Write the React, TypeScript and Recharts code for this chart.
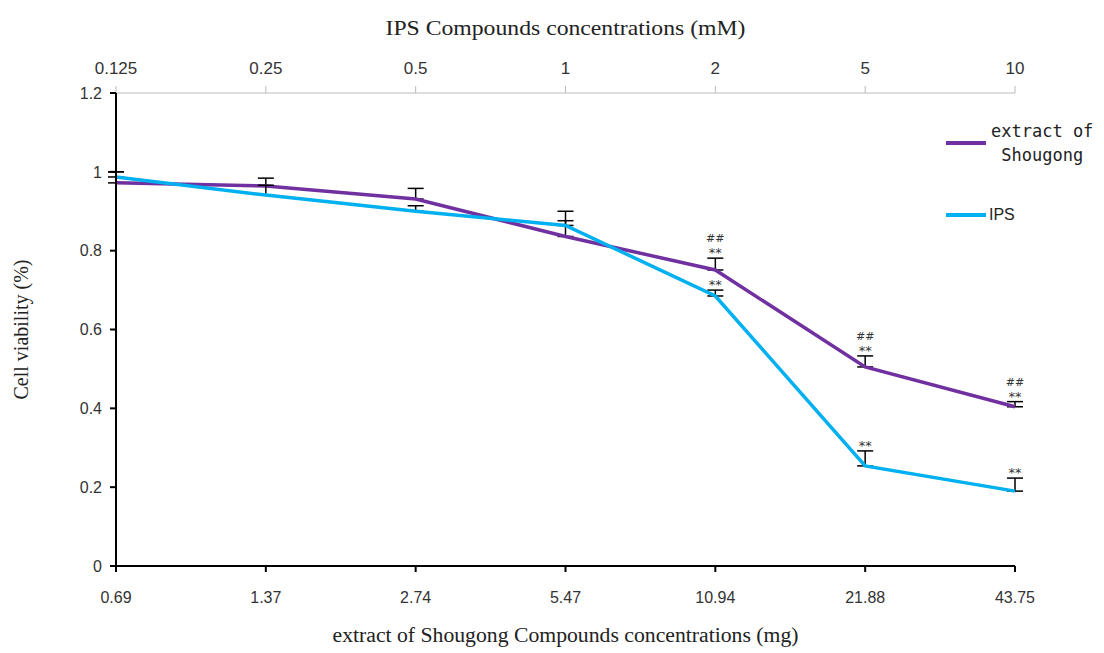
import React from "react";
import {
  LineChart,
  Line,
  XAxis,
  YAxis,
  ErrorBar,
  ReferenceDot,
  Legend,
} from "recharts";

const mgLabels = ["0.69", "1.37", "2.74", "5.47", "10.94", "21.88", "43.75"];
const mMLabels = ["0.125", "0.25", "0.5", "1", "2", "5", "10"];
const shougong = [0.972, 0.964, 0.931, 0.836, 0.751, 0.505, 0.404];
const shougongErr = [0.028, 0.02, 0.027, 0.04, 0.03, 0.028, 0.013];
const ips = [0.987, 0.941, 0.9, 0.864, 0.685, 0.254, 0.19];
const ipsErr = [0.013, 0.025, 0.014, 0.036, 0.015, 0.038, 0.033];
const shougongMarks = ["", "", "", "", "##\n**", "##\n**", "##\n**"];
const ipsMarks = ["", "", "", "", "**", "**", "**"];
const yTicks = [0, 0.2, 0.4, 0.6, 0.8, 1, 1.2];

const PURPLE = "#7030A0";
const CYAN = "#00B0F0";

const data = mgLabels.map((mg, i) => ({
  mg,
  mM: mMLabels[i],
  shougong: shougong[i],
  shougongErr: [0, shougongErr[i]],
  ips: ips[i],
  ipsErr: [0, ipsErr[i]],
}));

const tickSans = { fontSize: 16, fill: "#333", fontFamily: "Liberation Sans, Arial, sans-serif" };
const tickTop = { fontSize: 17, fill: "#333", fontFamily: "Liberation Sans, sans-serif" };

// ## / ** significance marks stacked above the error bar cap
function Marks({ viewBox, text }: any) {
  if (!viewBox || !text) return null;
  const x = viewBox.x + viewBox.width / 2;
  const y = viewBox.y;
  const lines = String(text).split("\n").reverse();
  return (
    <g>
      {lines.map((t: string, k: number) => (
        <text
          key={k}
          x={x}
          y={y - 1 - k * 15}
          textAnchor="middle"
          fontSize={t === "##" ? 11 : 13}
          fontFamily="DejaVu Sans, sans-serif"
          fill="#333"
        >
          {t}
        </text>
      ))}
    </g>
  );
}

function TopTitle({ viewBox }: any) {
  const cx = viewBox.x + viewBox.width / 2;
  return (
    <text
      x={cx}
      y={35}
      textAnchor="middle"
      fontSize={22}
      fontFamily="Liberation Serif, serif"
      fill="#222"
      textLength={360}
      lengthAdjust="spacingAndGlyphs"
    >
      IPS Compounds concentrations (mM)
    </text>
  );
}

function BottomTitle({ viewBox }: any) {
  const cx = viewBox.x + viewBox.width / 2;
  return (
    <text
      x={cx}
      y={642}
      textAnchor="middle"
      fontSize={20}
      fontFamily="Liberation Serif, serif"
      fill="#222"
      textLength={466}
      lengthAdjust="spacingAndGlyphs"
    >
      extract of Shougong Compounds concentrations (mg)
    </text>
  );
}

function YTitle({ viewBox }: any) {
  const cy = viewBox.y + viewBox.height / 2;
  return (
    <text
      x={28}
      y={cy}
      transform={`rotate(-90 28 ${cy})`}
      textAnchor="middle"
      fontSize={20}
      fontFamily="Liberation Serif, serif"
      fill="#222"
    >
      Cell viability (%)
    </text>
  );
}

function LegendBox() {
  return (
    <div style={{ width: 160 }}>
      <div style={{ display: "flex", alignItems: "center", height: 50 }}>
        <div style={{ width: 40, height: 4, background: PURPLE, marginRight: 5 }} />
        <div
          style={{
            fontFamily: "DejaVu Sans Mono, monospace",
            fontSize: 17,
            lineHeight: "24px",
            textAlign: "center",
            color: "#222",
          }}
        >
          extract of
          <br />
          Shougong
        </div>
      </div>
      <div style={{ display: "flex", alignItems: "center", marginTop: 38 }}>
        <div style={{ width: 40, height: 4, background: CYAN, marginRight: 3 }} />
        <div style={{ fontFamily: "Liberation Sans, sans-serif", fontSize: 16, color: "#222" }}>IPS</div>
      </div>
    </div>
  );
}

export default function App() {
  return (
    <div style={{ position: "absolute", left: 0, top: 0, width: 1104, height: 653, background: "#fff" }}>
      <LineChart width={1104} height={653} data={data} margin={{ top: 0, right: 89, bottom: 0, left: 0 }}>
        <XAxis
          xAxisId="top"
          dataKey="mM"
          orientation="top"
          height={93}
          tick={tickTop}
          axisLine={{ stroke: "#bbb" }}
          tickLine={{ stroke: "#bbb" }}
          tickSize={7}
          tickMargin={12}
          interval={0}
          label={<TopTitle />}
        />
        <XAxis
          xAxisId="bottom"
          dataKey="mg"
          height={87}
          tick={tickSans}
          axisLine={{ stroke: "#000", strokeWidth: 2 }}
          tickLine={{ stroke: "#000", strokeWidth: 2 }}
          tickSize={6}
          tickMargin={20}
          interval={0}
          label={<BottomTitle />}
        />
        <YAxis
          domain={[0, 1.2]}
          ticks={yTicks}
          width={116}
          tick={tickSans}
          axisLine={{ stroke: "#000", strokeWidth: 2 }}
          tickLine={{ stroke: "#000", strokeWidth: 2 }}
          tickSize={6}
          tickMargin={8}
          interval={0}
          tickFormatter={(v) => String(v)}
          label={<YTitle />}
        />
        <Legend
          layout="horizontal"
          verticalAlign="middle"
          align="center"
          wrapperStyle={{ top: 118, left: 946, width: 160 }}
          content={() => <LegendBox />}
        />
        <Line
          xAxisId="bottom"
          dataKey="shougong"
          name="extract of Shougong"
          stroke={PURPLE}
          strokeWidth={3.5}
          dot={false}
          isAnimationActive={false}
        >
          <ErrorBar dataKey="shougongErr" direction="y" width={8} stroke="#000" strokeWidth={1.5} />
        </Line>
        <Line
          xAxisId="bottom"
          dataKey="ips"
          name="IPS"
          stroke={CYAN}
          strokeWidth={3.5}
          dot={false}
          isAnimationActive={false}
        >
          <ErrorBar dataKey="ipsErr" direction="y" width={8} stroke="#000" strokeWidth={1.5} />
        </Line>
        {mgLabels.map((mg, i) =>
          shougongMarks[i] ? (
            <ReferenceDot
              key={`s${i}`}
              xAxisId="bottom"
              x={mg}
              y={shougong[i] + shougongErr[i]}
              r={0}
              ifOverflow="visible"
              label={<Marks text={shougongMarks[i]} />}
            />
          ) : null
        )}
        {mgLabels.map((mg, i) =>
          ipsMarks[i] ? (
            <ReferenceDot
              key={`i${i}`}
              xAxisId="bottom"
              x={mg}
              y={ips[i] + ipsErr[i]}
              r={0}
              ifOverflow="visible"
              label={<Marks text={ipsMarks[i]} />}
            />
          ) : null
        )}
      </LineChart>
    </div>
  );
}
